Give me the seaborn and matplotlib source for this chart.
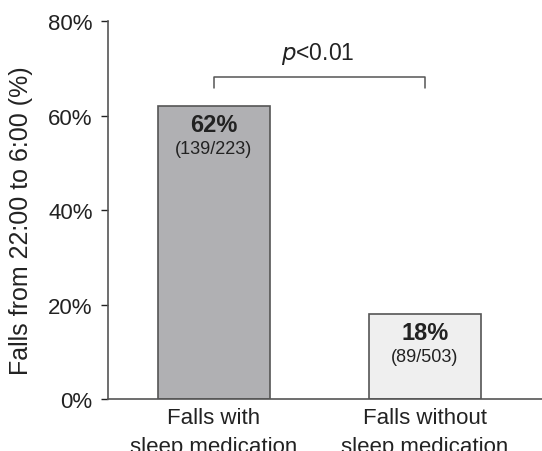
import pandas as pd
import matplotlib.pyplot as plt
import seaborn as sns

# values
groups = ['Falls with\nsleep medication', 'Falls without\nsleep medication']
percent = [62, 18]
counts = ['(139/223)', '(89/503)']
bar_colors = ['#b0b0b3', '#efefef']
p_text = '<0.01'

df = pd.DataFrame({'group': groups, 'percent': percent})

sns.set_style('white')
plt.rcParams['font.family'] = ['Liberation Sans', 'DejaVu Sans']

fig = plt.figure(figsize=(5.42, 4.52), dpi=100)
ax = fig.add_axes([0.199, 0.115, 0.801, 0.836])

sns.barplot(data=df, x='group', y='percent', hue='group', palette=bar_colors,
            width=0.53, edgecolor='#555555', linewidth=1.2, legend=False, ax=ax)

ax.set_ylim(0, 80)
ax.set_xlim(-0.502, 1.554)
ax.set_yticks([0, 20, 40, 60, 80])
ax.set_yticklabels([f'{t}%' for t in [0, 20, 40, 60, 80]])
ax.set_xlabel('')
ax.set_ylabel('Falls from 22:00 to 6:00 (%)', fontsize=18, color='#222222')
ax.yaxis.set_label_coords(-0.172, 0.475)
ax.tick_params(axis='y', labelsize=16, colors='#222222', length=5, width=1, left=True, direction='out', pad=6)
ax.tick_params(axis='x', labelsize=16, colors='#222222', length=0, pad=6)
for lab in ax.get_xticklabels():
    lab.set_linespacing(1.45)

sns.despine(ax=ax)
for s in ['left', 'bottom']:
    ax.spines[s].set_color('#555555')
    ax.spines[s].set_linewidth(1.2)

# bar labels
for i, (v, c) in enumerate(zip(percent, counts)):
    ax.text(i, v - 1.5, f'{v}%', ha='center', va='top', fontsize=17, fontweight='bold', color='#222222')
    ax.text(i, v - 7.1, c, ha='center', va='top', fontsize=13, color='#222222')

# significance bracket
ax.plot([0, 0, 1, 1], [65.8, 68.1, 68.1, 65.8], color='#555555', lw=1.1, clip_on=False)
ax.text(0.49, 70.6, r'$p$' + p_text, ha='center', va='bottom', fontsize=16.5, color='#222222')

plt.savefig('out.png', dpi=100)
